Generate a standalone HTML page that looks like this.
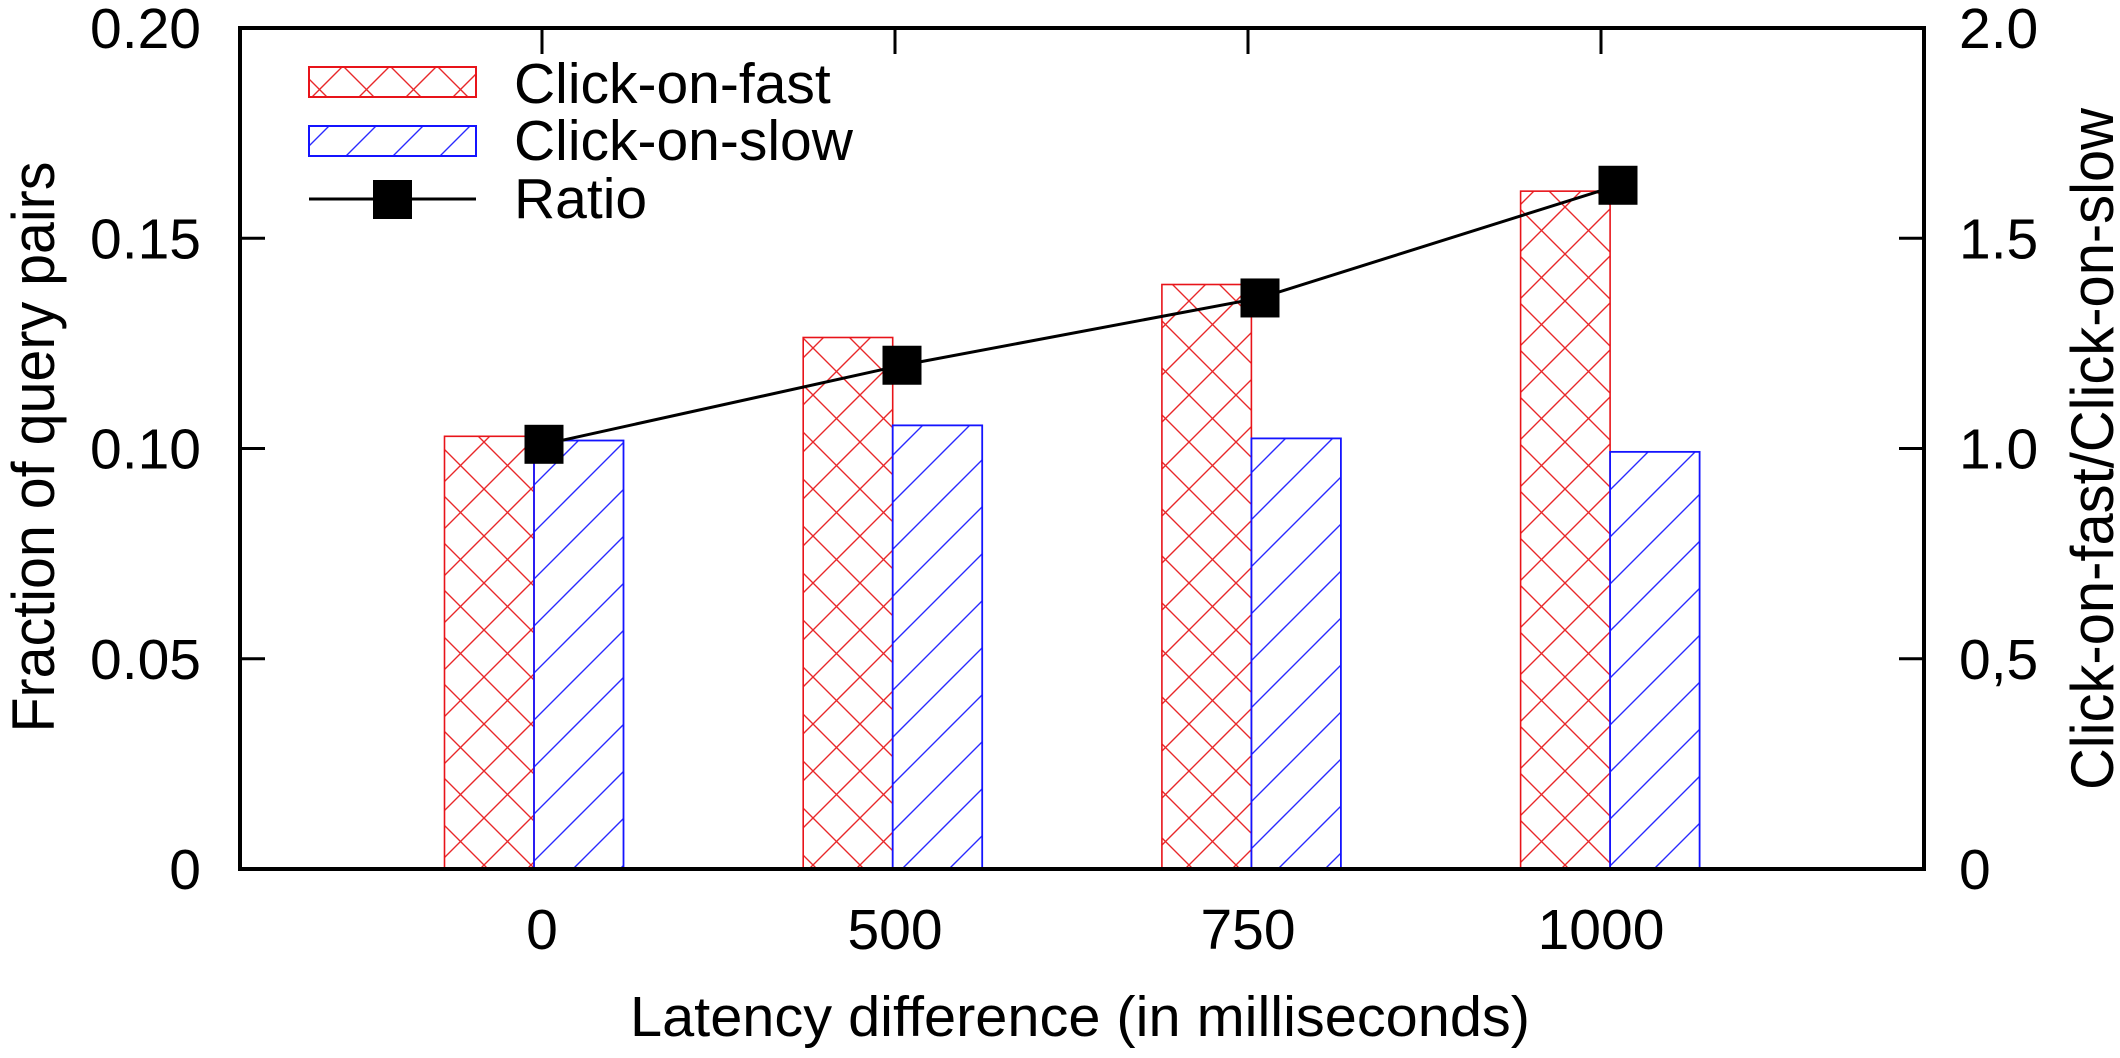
<!DOCTYPE html>
<html><head><meta charset="utf-8"><style>
html,body{margin:0;padding:0;background:#fff;}
svg{display:block;font-family:"Liberation Sans",sans-serif;}
</style></head><body>
<svg id="chart" width="2120" height="1058" viewBox="0 0 2120 1058" xmlns="http://www.w3.org/2000/svg">
<defs>
<pattern id="pRed" patternUnits="userSpaceOnUse" x="460.5" y="606.5" width="47" height="47">
<path d="M0,0L47,47M47,0L0,47" stroke="#e8282a" stroke-width="1.4" fill="none"/>
</pattern>
<pattern id="pBlue" patternUnits="userSpaceOnUse" x="0" y="32" width="47" height="47">
<path d="M0,47L47,0M-10,10L10,-10M37,57L57,37" stroke="#2a2aff" stroke-width="1.4" fill="none"/>
</pattern>
</defs>
<g id="bars"></g>
<g id="axes"></g>
<g id="ratio"></g>
<g id="legend">
<rect x="309" y="67" width="167" height="30" fill="url(#pRed)" stroke="#e8141a" stroke-width="2"/>
<text x="514" y="103" font-size="57">Click-on-fast</text>
<rect x="309" y="126" width="167" height="30" fill="url(#pBlue)" stroke="#1414ff" stroke-width="2"/>
<text x="514" y="160" font-size="57">Click-on-slow</text>
<line x1="309" y1="199" x2="476" y2="199" stroke="#000" stroke-width="3"/>
<rect x="373" y="180" width="39" height="39" fill="#000"/>
<text x="514" y="218" font-size="57">Ratio</text>
</g>
<text x="1080" y="1036" font-size="57" text-anchor="middle" textLength="900" lengthAdjust="spacingAndGlyphs">Latency difference (in milliseconds)</text>
<text transform="translate(54,447) rotate(-90)" font-size="60" text-anchor="middle" textLength="571" lengthAdjust="spacingAndGlyphs">Fraction of query pairs</text>
<text transform="translate(2113,449) rotate(-90)" font-size="60" text-anchor="middle" textLength="682" lengthAdjust="spacingAndGlyphs">Click-on-fast/Click-on-slow</text>
</svg>
<script>
const categories = ["0", "500", "750", "1000"];
const clickOnFast = [0.1029, 0.1264, 0.1390, 0.1612];
const clickOnSlow = [0.1019, 0.1055, 0.1024, 0.0992];
const ratio = [1.01, 1.198, 1.358, 1.626];
const leftTicks = ["0", "0.05", "0.10", "0.15", "0.20"];
const leftTickValues = [0, 0.05, 0.10, 0.15, 0.20];
const rightTicks = ["0", "0,5", "1.0", "1.5", "2.0"];
const rightTickValues = [0, 0.5, 1.0, 1.5, 2.0];

const NS = "http://www.w3.org/2000/svg";
const L = 240, R = 1924, T = 28, B = 869;
const yL = v => B - (B - T) * v / 0.20;
const yR = v => B - (B - T) * v / 2.0;
const xBar = i => 534 + 358.7 * i;     // group centre (bar boundary)
const xMark = i => 544 + 358 * i;      // ratio marker position
const xTick = i => 542 + 353 * i;      // tick / label position
const BW = 89.5;

function mk(tag, attrs, parent) {
  const e = document.createElementNS(NS, tag);
  for (const k in attrs) e.setAttribute(k, attrs[k]);
  parent.appendChild(e);
  return e;
}
const bars = document.getElementById('bars');
categories.forEach((c, i) => {
  const r = mk('rect', {x: xBar(i) - BW, y: yL(clickOnFast[i]), width: BW, height: B - yL(clickOnFast[i]), fill: 'url(#pRed)', stroke: '#e8141a', 'stroke-width': 1.6}, bars);
  
  
  const b = mk('rect', {x: xBar(i), y: yL(clickOnSlow[i]), width: BW, height: B - yL(clickOnSlow[i]), fill: 'url(#pBlue)', stroke: '#1414ff', 'stroke-width': 1.8}, bars);
  
  
});

const axes = document.getElementById('axes');
const frame = mk('rect', {x: L, y: T, width: R - L, height: B - T, fill: 'none', stroke: '#000', 'stroke-width': 4}, axes);


leftTickValues.forEach((v, i) => {
  const y = yL(v);
  if (i > 0 && i < leftTickValues.length - 1) {
    const t = mk('line', {x1: L, x2: L + 25, y1: y, y2: y, stroke: '#000', 'stroke-width': 3}, axes);
    
    
  }
  const tx = mk('text', {x: 201, y: y + 20, 'font-size': 57, 'text-anchor': 'end'}, axes);
  tx.textContent = leftTicks[i];
  
  
});
rightTickValues.forEach((v, i) => {
  const y = yR(v);
  if (i > 0 && i < rightTickValues.length - 1) {
    const t = mk('line', {x1: R - 25, x2: R, y1: y, y2: y, stroke: '#000', 'stroke-width': 3}, axes);
    
    
  }
  const tx = mk('text', {x: 1959, y: y + 20, 'font-size': 57}, axes);
  tx.textContent = rightTicks[i];
  
  
});
categories.forEach((c, i) => {
  const x = xTick(i);
  const t = mk('line', {x1: x, x2: x, y1: T, y2: T + 26, stroke: '#000', 'stroke-width': 3}, axes);
  
  
  const tx = mk('text', {x: x, y: 949, 'font-size': 57, 'text-anchor': 'middle'}, axes);
  tx.textContent = c;
  
  
});

const rg = document.getElementById('ratio');
const pl = mk('polyline', {points: ratio.map((v, i) => xMark(i) + ',' + yR(v)).join(' '), fill: 'none', stroke: '#000', 'stroke-width': 3}, rg);


ratio.forEach((v, i) => {
  const m = mk('rect', {x: xMark(i) - 19.5, y: yR(v) - 19.5, width: 39, height: 39, fill: '#000'}, rg);
  
  
});
</script>
</body></html>
